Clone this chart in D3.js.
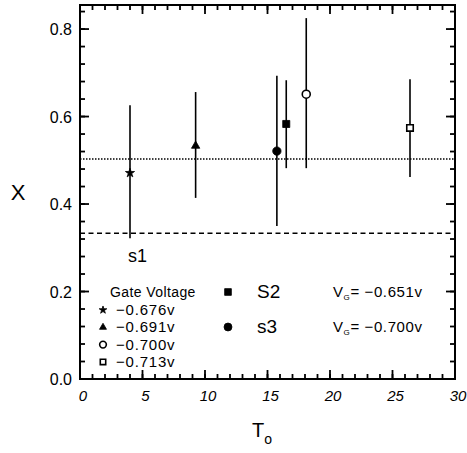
<!DOCTYPE html>
<html><head><meta charset="utf-8">
<script src="https://cdn.jsdelivr.net/npm/d3@7"></script>
<style>body{margin:0;background:#fff}svg{display:block}text{font-family:"Liberation Sans",Arial,sans-serif;fill:#000}</style>
</head><body><svg id="c" width="467" height="453"></svg>
<script>
// Data
const temps   = [4.0, 9.25, 15.75, 16.5, 18.1, 26.4];
const xVals   = [0.471, 0.533, 0.521, 0.583, 0.651, 0.574];
const errLow  = [0.322, 0.414, 0.350, 0.482, 0.482, 0.462];
const errHigh = [0.626, 0.656, 0.693, 0.683, 0.825, 0.685];
const markers = ["star", "triangle", "filledCircle", "filledSquare", "openCircle", "openSquare"];
const xTicks = [0, 5, 10, 15, 20, 25, 30];
const yTicks = [0.0, 0.2, 0.4, 0.6, 0.8];
const dottedLevel = 0.503;
const dashedLevel = 1/3;
const legendMarkers = ["star", "triangle", "openCircle", "openSquare"];
const legendLabels = ["\u22120.676v", "\u22120.691v", "\u22120.700v", "\u22120.713v"];
const sampleMarkers = ["filledSquare", "filledCircle"];
const sampleNames = ["S2", "s3"];
const sampleVg = ["\u22120.651v", "\u22120.700v"];

const W = 467, H = 453;
const m = {left: 80, right: 12, top: 5, bottom: 74};
const svg = d3.select("#c");
const x = d3.scaleLinear().domain([0, 30]).range([m.left, W - m.right]);
const y = d3.scaleLinear().domain([0, 0.855]).range([H - m.bottom, m.top]);

function sym(type) {
  const map = {
    star: [d3.symbolStar, 26, true], triangle: [d3.symbolTriangle, 30, true],
    filledCircle: [d3.symbolCircle, 55, true], filledSquare: [d3.symbolSquare, 50, true],
    openCircle: [d3.symbolCircle, 50, false], openSquare: [d3.symbolSquare, 42, false]
  };
  return map[type];
}
function drawMarker(g, type, cx, cy, scale) {
  const [s, size, filled] = sym(type);
  g.append("path").attr("d", d3.symbol().type(s).size(size * (scale || 1))())
    .attr("transform", `translate(${cx},${cy})`)
    .attr("fill", filled ? "#000" : "#fff").attr("stroke", "#000").attr("stroke-width", filled ? 0.8 : 1.6);
}

// reference lines
svg.append("line").attr("x1", x(0)).attr("x2", x(30)).attr("y1", y(dottedLevel)).attr("y2", y(dottedLevel))
  .attr("stroke", "#000").attr("stroke-width", 1.6).attr("stroke-dasharray", "1.5,1.5");
svg.append("line").attr("x1", x(0)).attr("x2", x(30)).attr("y1", y(dashedLevel)).attr("y2", y(dashedLevel))
  .attr("stroke", "#000").attr("stroke-width", 1.6).attr("stroke-dasharray", "5,3.5");

// ticks (inward) on all four sides
const major = 9, minor = 5;
const xMinor = d3.range(0, 31, 1), yMinor = d3.range(0, 0.855, 0.04);
const tk = svg.append("g");
function seg(x1, y1, x2, y2) {
  tk.append("line").attr("x1", x1).attr("y1", y1).attr("x2", x2).attr("y2", y2)
    .style("stroke", "#000").style("stroke-width", "1.8px");
}
function xt(vals, len) {
  vals.forEach(v => { seg(x(v), y(0), x(v), y(0) - len); seg(x(v), m.top, x(v), m.top + len); });
}
function yt(vals, len) {
  vals.forEach(v => { seg(x(0), y(v), x(0) + len, y(v)); seg(x(30), y(v), x(30) - len, y(v)); });
}
xt(xMinor, minor); xt(xTicks, major); yt(yMinor, minor); yt(yTicks, major);

svg.append("rect").attr("x", x(0)).attr("y", m.top).attr("width", x(30) - x(0)).attr("height", y(0) - m.top)
  .attr("fill", "none").attr("stroke", "#000").attr("stroke-width", 2);

// tick labels
svg.append("g").selectAll("text").data(xTicks).join("text")
  .attr("x", d => x(d) + 3).attr("y", y(0) + 22).attr("text-anchor", "middle")
  .attr("font-size", 15).attr("font-style", "italic").text(d => d);
svg.append("g").selectAll("text").data(yTicks).join("text")
  .attr("x", x(0) - 8).attr("y", d => y(d) + 6).attr("text-anchor", "end")
  .attr("font-size", 16).text(d => d.toFixed(1));

// axis titles
svg.append("text").attr("x", 18).attr("y", 200).attr("text-anchor", "middle").attr("font-size", 22).text("X");
const tt = svg.append("text").attr("x", 262).attr("y", 437).attr("text-anchor", "middle").attr("font-size", 20);
tt.append("tspan").text("T");
tt.append("tspan").attr("dy", 7).attr("font-size", 14).text("o");

// error bars and points
const pts = svg.append("g");
temps.forEach((t, i) => {
  pts.append("line").attr("x1", x(t)).attr("x2", x(t)).attr("y1", y(errLow[i])).attr("y2", y(errHigh[i]))
    .attr("stroke", "#000").attr("stroke-width", 1.6);
});
temps.forEach((t, i) => drawMarker(pts, markers[i], x(t), y(xVals[i])));

// s1 label
svg.append("text").attr("x", 128).attr("y", 262).attr("font-size", 18).text("s1");

// legend
svg.append("text").attr("x", 110).attr("y", 297).attr("font-size", 14).attr("letter-spacing", 0.4).text("Gate Voltage");
const lg = svg.append("g");
legendLabels.forEach((lab, i) => {
  const cy = 310 + i * 17.3;
  drawMarker(lg, legendMarkers[i], 103, cy, 0.7);
  lg.append("text").attr("x", 116).attr("y", cy + 5).attr("font-size", 15).attr("letter-spacing", 0.8).text(lab);
});
sampleNames.forEach((nm, i) => {
  const cy = 292 + i * 35;
  drawMarker(lg, sampleMarkers[i], 228, cy, 0.9);
  lg.append("text").attr("x", 257).attr("y", cy + 6).attr("font-size", 19).text(nm);
  const t = lg.append("text").attr("x", 333).attr("y", cy + 5).attr("font-size", 15).attr("letter-spacing", 0.6);
  t.append("tspan").text("V");
  t.append("tspan").attr("dy", 3).attr("font-size", 8).text("G");
  t.append("tspan").attr("dy", -3).text("= " + sampleVg[i]);
});
</script></body></html>
